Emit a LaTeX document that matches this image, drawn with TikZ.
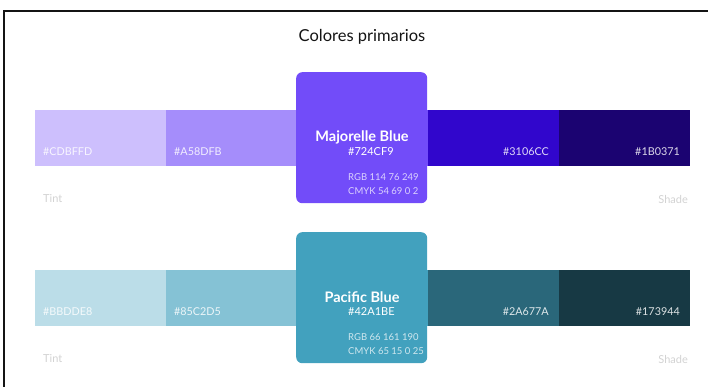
\documentclass[tikz,border=0pt]{standalone}
\usepackage{fontspec}
\setmainfont{Lato}
\usetikzlibrary{positioning}
\definecolor{ink}{HTML}{141414}
\definecolor{faint}{HTML}{D2D2D2}
\definecolor{majT2}{HTML}{CDBFFD}
\definecolor{majT1}{HTML}{A58DFB}
\definecolor{majorelle}{HTML}{724CF9}
\definecolor{majS1}{HTML}{3106CC}
\definecolor{majS2}{HTML}{1B0371}
\definecolor{pacT2}{HTML}{BBDDE8}
\definecolor{pacT1}{HTML}{85C2D5}
\definecolor{pacific}{HTML}{42A1BE}
\definecolor{pacS1}{HTML}{2A677A}
\definecolor{pacS2}{HTML}{173944}
\tikzset{
  title/.style={font=\fontsize{16.5}{19}\selectfont, text=ink},
  swatch/.style={minimum width=131pt, minimum height=56pt, inner sep=0pt, outer sep=0pt},
  card/.style={rounded corners=6pt, minimum width=131pt, minimum height=131pt, inner sep=0pt, anchor=north west},
  hexlabel/.style={font=\fontsize{10.8}{12}\selectfont, text=white, text opacity=0.85, inner sep=0pt},
  cardname/.style={font=\bfseries\fontsize{14.5}{16}\selectfont, text=white, inner sep=0pt},
  cardhex/.style={font=\fontsize{11}{13}\selectfont, text=white, inner sep=0pt, anchor=west},
  cardsmall/.style={font=\fontsize{9.5}{11}\selectfont, text=white, text opacity=0.75, inner sep=0pt, anchor=west},
  sidelabel/.style={font=\fontsize{11}{13}\selectfont, text=faint, inner sep=0pt}
}

\begin{document}
\begin{tikzpicture}[x=1pt,y=-1pt]
\useasboundingbox (0,0) rectangle (708,387);

% frame
\draw[line width=1.3pt, ink] (4,400) -- (4,11) -- (720,11);

\node[title] (heading) at (362,37) {Colores primarios};

% Majorelle Blue
\node[swatch, fill=majT2, anchor=north west] (majtint2) at (35,110) {};
\node[swatch, fill=majT1, right=0pt of majtint2] (majtint1) {};
\node[swatch, fill=majorelle, right=0pt of majtint1] (majbase) {};
\node[swatch, fill=majS1, right=0pt of majbase] (majshade1) {};
\node[swatch, fill=majS2, right=0pt of majshade1] (majshade2) {};
\node[card, fill=majorelle] (majcard) at (296,72) {};

\node[hexlabel, anchor=west] (majt2hex) at (43,152) {\#CDBFFD};
\node[hexlabel, anchor=west] (majt1hex) at (174,152) {\#A58DFB};
\node[hexlabel, anchor=east] (majs1hex) at (549,152) {\#3106CC};
\node[hexlabel, anchor=east] (majs2hex) at (680,152) {\#1B0371};

\node[cardname] (majname) at (362,137) {Majorelle Blue};
\node[cardhex] (majhex) at (348,152) {\#724CF9};
\node[cardsmall] (majrgb) at (348,177) {RGB 114 76 249};
\node[cardsmall] (majcmyk) at (348,191) {CMYK 54 69 0 2};

\node[sidelabel, anchor=west] (majtint) at (43,199) {Tint};
\node[sidelabel, anchor=east] (majshade) at (688,199) {Shade};

% Pacific Blue
\node[swatch, fill=pacT2, anchor=north west] (pactint2) at (35,270) {};
\node[swatch, fill=pacT1, right=0pt of pactint2] (pactint1) {};
\node[swatch, fill=pacific, right=0pt of pactint1] (pacbase) {};
\node[swatch, fill=pacS1, right=0pt of pacbase] (pacshade1) {};
\node[swatch, fill=pacS2, right=0pt of pacshade1] (pacshade2) {};
\node[card, fill=pacific] (paccard) at (296,232) {};

\node[hexlabel, anchor=west] (pact2hex) at (43,312) {\#BBDDE8};
\node[hexlabel, anchor=west] (pact1hex) at (174,312) {\#85C2D5};
\node[hexlabel, anchor=east] (pacs1hex) at (549,312) {\#2A677A};
\node[hexlabel, anchor=east] (pacs2hex) at (680,312) {\#173944};

\node[cardname] (pacname) at (362,297) {Pacific Blue};
\node[cardhex] (pachex) at (348,312) {\#42A1BE};
\node[cardsmall] (pacrgb) at (348,337) {RGB 66 161 190};
\node[cardsmall] (paccmyk) at (348,351) {CMYK 65 15 0 25};

\node[sidelabel, anchor=west] (pactint) at (43,359) {Tint};
\node[sidelabel, anchor=east] (pacshade) at (688,359) {Shade};

\end{tikzpicture}
\end{document}
